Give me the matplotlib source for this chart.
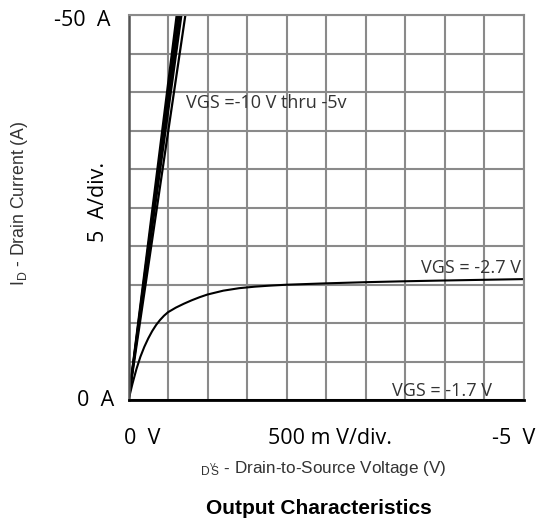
import matplotlib.pyplot as plt

# drain-source voltage magnitude (V) and drain current magnitude (A)
# VGS = -10 V thru -5 V: near-linear lines, V at which each hits 50 A
high_vgs_vds_at_50A = [0.61, 0.63, 0.65, 0.67, 0.72]
high_vgs_id = [0, 50]

# VGS = -2.7 V
vds_27 = [0, 0.05, 0.1, 0.15, 0.2, 0.25, 0.3, 0.35, 0.4, 0.45, 0.5, 0.6, 0.7, 0.8, 0.9, 1.0,
          1.2, 1.4, 1.6, 1.8, 2.0, 2.5, 3.0, 3.5, 4.0, 4.5, 5.0]
id_27 = [0, 2.1, 4.0, 5.6, 6.9, 8.0, 8.95, 9.75, 10.4, 10.95, 11.4, 12.0, 12.5, 12.95, 13.35, 13.7,
         14.2, 14.52, 14.72, 14.86, 14.97, 15.15, 15.3, 15.42, 15.52, 15.61, 15.7]

# VGS = -1.7 V
vds_17 = [0, 5.0]
id_17 = [0, 0]

W, H = 539, 519
fig = plt.figure(figsize=(W / 100, H / 100), dpi=100)
plt.rcParams['font.family'] = ['Open Sans', 'DejaVu Sans']
ax = fig.add_axes([128.5 / W, 1 - 400 / H, 395 / W, 385 / H])

ax.set_xlim(0, 5)
ax.set_ylim(0, 50)
ax.set_xticks([i * 0.5 for i in range(11)])
ax.set_yticks([i * 5 for i in range(11)])
ax.grid(True, color='#8a8a8a', linewidth=1.5)
ax.tick_params(length=0, labelbottom=False, labelleft=False)
ax.set_axisbelow(True)
for side in ['top', 'right']:
    ax.spines[side].set_color('#8a8a8a')
    ax.spines[side].set_linewidth(1.5)
ax.spines['left'].set_color('#555555')
ax.spines['left'].set_linewidth(1.8)
ax.spines['bottom'].set_color('black')
ax.spines['bottom'].set_linewidth(2)

for v in high_vgs_vds_at_50A:
    ax.plot([0, v], high_vgs_id, color='black', linewidth=1.6)
ax.plot(vds_27, id_27, color='black', linewidth=1.5, solid_joinstyle='round')
ax.plot(vds_17, id_17, color='black', linewidth=2)

ann = dict(fontsize=13, color='#333333', va='center')
ax.text(0.73, 38.6, 'VGS =-10 V thru -5v', **ann)
ax.text(4.97, 17.1, 'VGS = -2.7 V', ha='right', **ann)
ax.text(4.6, 1.2, 'VGS = -1.7 V', ha='right', **ann)


def ftext(x, y, s, **kw):
    fig.text(x / W, 1 - y / H, s, **kw)


tick = dict(fontsize=15.5, va='center')
ftext(111, 20, '-50  A', ha='right', **tick)
ftext(114, 400, '0  A', ha='right', **tick)
ftext(98, 202, '5  A/div.', ha='center', rotation=90, **tick)
ftext(142, 438, '0  V', ha='center', **tick)
ftext(330, 438, '500 m V/div.', ha='center', **tick)
ftext(514, 438, '-5  V', ha='center', **tick)

arial = ['Liberation Sans', 'DejaVu Sans']
# x label with the overlapped V / DS subscript seen in the original
ftext(200, 468, r'$\mathregular{{}_{D}{}^{_V}\!\!{}_{S}}$ - Drain-to-Source Voltage (V)',
      fontsize=12.3, ha='left', va='center', color='#333333', family=arial)

ftext(20, 203, r'I$_\mathregular{D}$ - Drain Current (A)', fontsize=12.7, ha='center', va='center',
      rotation=90, color='#333333', family=arial)

ftext(319, 508, 'Output Characteristics', fontsize=15, fontweight='bold', ha='center', va='center',
      family=arial)

fig.savefig('out.png', dpi=100)
